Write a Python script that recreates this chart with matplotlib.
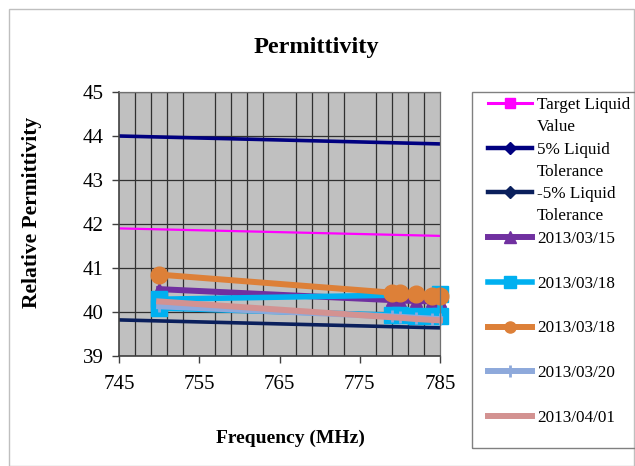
import matplotlib
matplotlib.use("Agg")
import matplotlib.pyplot as plt
from matplotlib.lines import Line2D
from matplotlib.patches import Rectangle

plt.rcParams['font.family'] = ['Liberation Serif', 'DejaVu Serif']

# reference limits
limit_freq = [745, 785]
target = [41.90, 41.73]
upper_tol = [44.00, 43.82]
lower_tol = [39.82, 39.64]

# measured points
freq = [750, 779, 780, 782, 784, 785]
meas_0315 = [40.52, 40.27, 40.26, 40.25, 40.24, 40.24]
# 03/18 sweep goes down and back up
freq_0318a = [750, 779, 780, 782, 784, 785, 785, 750]
meas_0318a = [40.09, 39.93, 39.93, 39.92, 39.92, 39.92, 40.40, 40.29]
meas_0318b = [40.85, 40.44, 40.43, 40.40, 40.37, 40.37]
meas_0320 = [40.13, 39.90, 39.89, 39.87, 39.85, 39.84]
meas_0401 = [40.24, 39.88, 39.87, 39.84, 39.82, 39.81]

xticks = [745, 755, 765, 775, 785]
labels = ["Target Liquid\nValue", "5% Liquid\nTolerance", "-5% Liquid\nTolerance",
          "2013/03/15", "2013/03/18", "2013/03/18", "2013/03/20", "2013/04/01"]
colors = ["#FF00FF", "#000080", "#0A1F5C", "#7030A0", "#00B0F0", "#DD8038",
          "#8EA9DB", "#D39291"]
markers = ["s", "D", "D", "^", "s", "o", "|", ""]
widths = [1.6, 2.6, 2.6, 4.3, 4.0, 4.3, 4.3, 4.3]

fig = plt.figure(figsize=(6.35, 4.66), dpi=100)
ax = fig.add_axes([119/635, 1-356/466, 321/635, 264/466])
ax.set_facecolor("#C0C0C0")

ax.plot(limit_freq, target, color=colors[0], lw=widths[0])
ax.plot(limit_freq, upper_tol, color=colors[1], lw=widths[1])
ax.plot(limit_freq, lower_tol, color=colors[2], lw=widths[2])
ax.plot(freq, meas_0315, color=colors[3], lw=widths[3], marker="^", ms=9, clip_on=False)
ax.plot(freq_0318a, meas_0318a, color=colors[4], lw=widths[4], marker="s", ms=11,
        clip_on=False)
ax.plot(freq, meas_0318b, color=colors[5], lw=widths[5], marker="o", ms=12, clip_on=False)
ax.plot(freq, meas_0320, color=colors[6], lw=widths[6], marker="|", ms=9, mew=2,
        clip_on=False)
ax.plot(freq, meas_0401, color=colors[7], lw=widths[7], clip_on=False)

ax.set_xlim(745, 785)
ax.set_ylim(39, 45)
ax.set_xticks(xticks)
ax.set_xticks(range(745, 786, 2), minor=True)
ax.set_yticks(range(39, 46))
ax.grid(which="major", axis="y", color="#303030", lw=0.9)
ax.grid(which="minor", axis="x", color="#303030", lw=0.9)
ax.set_axisbelow(True)
ax.tick_params(which="major", direction="out", length=5, width=1, color="#404040",
               labelsize=15, pad=6)
ax.tick_params(axis="x", which="major", pad=9)
ax.tick_params(which="minor", length=0)
for side in ["left", "bottom"]:
    ax.spines[side].set_color("#404040")
    ax.spines[side].set_linewidth(1.2)
for side in ["top", "right"]:
    ax.spines[side].set_color("#707070")
    ax.spines[side].set_linewidth(0.9)

fig.text(316/635, 1-48/466, "Permittivity", fontsize=17.5, fontweight="bold",
         ha="center", va="center")
fig.text(290/635, 1-438/466, "Frequency (MHz)", fontsize=14, fontweight="bold",
         ha="center", va="center")
fig.text(32/635, 1-212/466, "Relative Permittivity", fontsize=15.5, fontweight="bold",
         ha="center", va="center", rotation=90)

# outer chart border and legend box
fig.add_artist(Rectangle((9/635, 0.5/466), 625/635, 457/466, transform=fig.transFigure,
                         fill=False, edgecolor="#BFBFBF", lw=1))
fig.add_artist(Rectangle((472/635, 1-448/466), 170/635, 356/466, transform=fig.transFigure,
                         fill=False, edgecolor="#808080", lw=1))

legend_ms = [7, 6, 6, 8, 8, 8, 8, 0]
for i, lab in enumerate(labels):
    y = 103 + i * 44.7
    fy = 1 - y / 466
    fig.add_artist(Line2D([488/635, 532/635], [fy, fy], transform=fig.transFigure,
                          color=colors[i], lw=widths[i] if i > 2 else widths[i] + 0.6))
    if markers[i]:
        fig.add_artist(Line2D([510/635], [fy], transform=fig.transFigure,
                              color=colors[i], marker=markers[i], ms=legend_ms[i],
                              mew=2 if markers[i] == "|" else 1))
    for j, line in enumerate(lab.split("\n")):
        fig.text(537/635, 1 - (y + j * 22) / 466, line, fontsize=12.3,
                 ha="left", va="center_baseline")

fig.savefig("out.png", dpi=100)
